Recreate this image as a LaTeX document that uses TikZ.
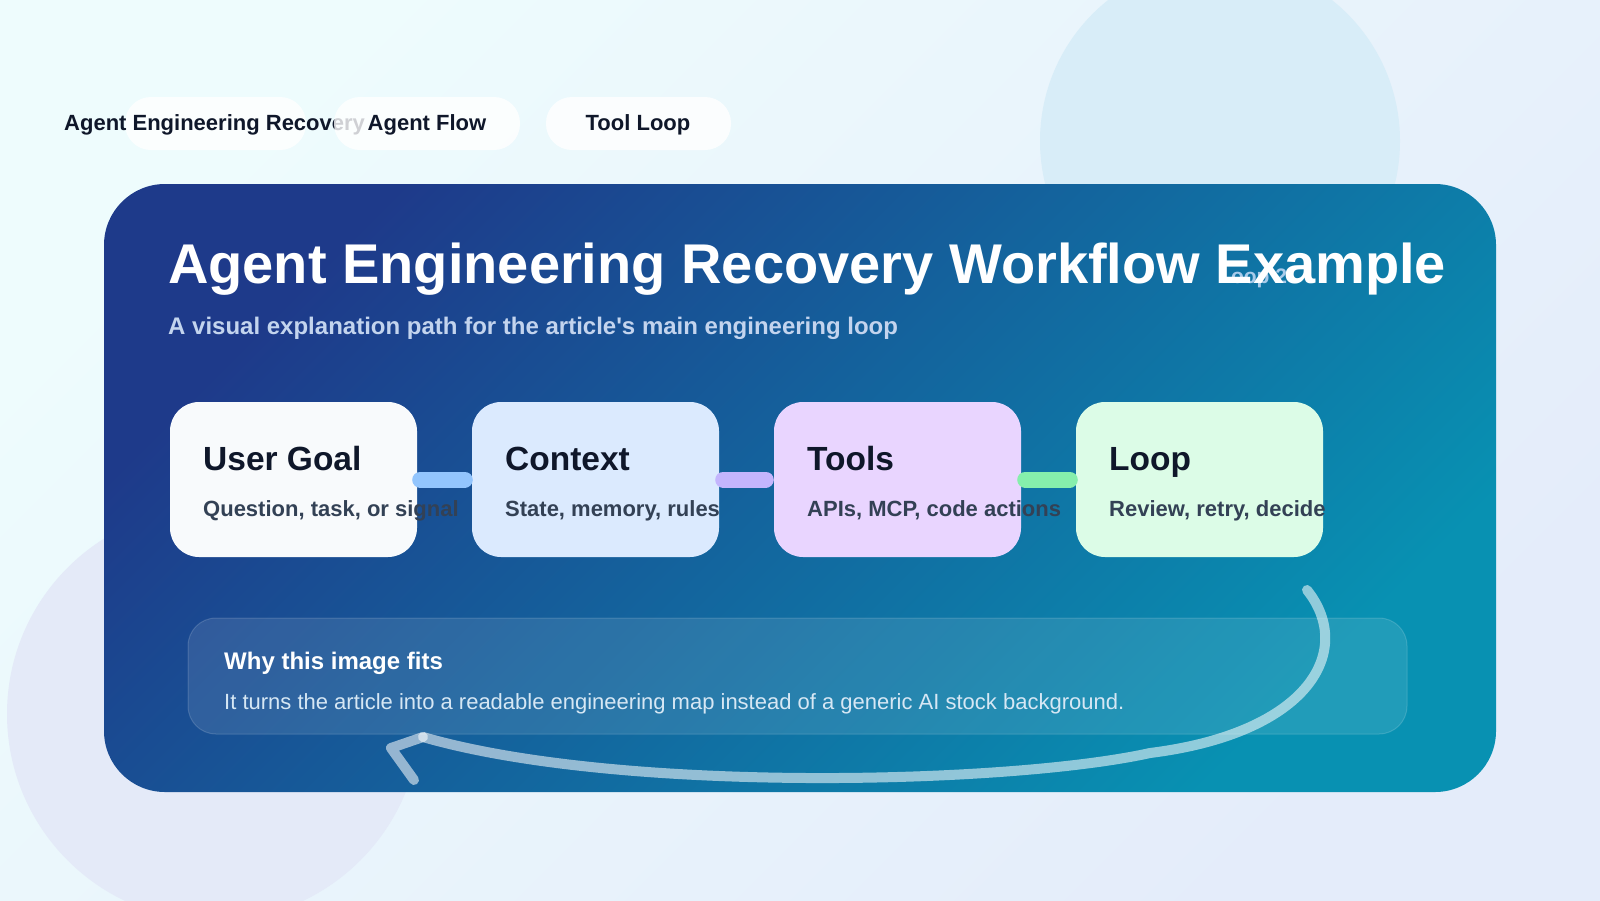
\documentclass[tikz,border=0pt]{standalone}
\usepackage{fontspec}
\setmainfont{Liberation Sans}[Ligatures=TeXOff]
\definecolor{bgA}{HTML}{EEFCFD}
\definecolor{bgB}{HTML}{E4ECFA}
\definecolor{circA}{HTML}{D8EDF8}
\definecolor{circB}{HTML}{E4EAF8}
\definecolor{panA}{HTML}{1E3A8A}
\definecolor{panB}{HTML}{0891B2}
\definecolor{ink}{HTML}{0F172A}
\definecolor{subink}{HTML}{334155}
\definecolor{subtitle}{HTML}{C3D4EE}
\definecolor{boxA}{HTML}{F8FAFC}
\definecolor{boxB}{HTML}{DBEAFE}
\definecolor{boxC}{HTML}{E9D5FF}
\definecolor{boxD}{HTML}{DCFCE7}
\definecolor{barA}{HTML}{93C5FD}
\definecolor{barB}{HTML}{C4B5FD}
\definecolor{barC}{HTML}{86EFAC}
\definecolor{bodyink}{HTML}{D6E7F4}
\definecolor{ghostink}{HTML}{A9CBEA}
\tikzset{
  pill/.style={fill=white, fill opacity=0.8, rounded corners=26},
  pilltext/.style={text=ink, font=\fontsize{22}{24}\selectfont\bfseries, inner sep=0pt},
  card/.style={minimum width=247pt, minimum height=155pt, rounded corners=29pt, inner sep=0pt},
  cardtitle/.style={anchor=base west, inner sep=0pt, text=ink, font=\fontsize{33.5}{36}\selectfont\bfseries},
  cardsub/.style={anchor=base west, inner sep=0pt, text=subink, font=\fontsize{22}{24}\selectfont\bfseries},
  bar/.style={line width=16pt, line cap=round},
  loopline/.style={draw=white, draw opacity=0.55, line width=10pt, line cap=round, line join=round},
}
\begin{document}
\begin{tikzpicture}[x=1pt,y=-1pt]
\useasboundingbox (0,0) rectangle (1600,900);
% background
\shade[left color=bgA, right color=bgB, shading angle=45] (0,0) rectangle (1600,900);
\fill[circA] (1220,141) circle[radius=180];
\fill[circB] (214,714) circle[radius=207];

% top pills
\fill[pill] (125,97) rectangle (306,150);
\node[pilltext, anchor=base west] (p1) at (64,130) {Agent Engineering Recovery};
\fill[pill] (334,97) rectangle (520,150);
\node[pilltext, anchor=base] (p2) at (427,130) {Agent Flow};
\fill[pill] (546,97) rectangle (731,150);
\node[pilltext, anchor=base] (p3) at (638,130) {Tool Loop};

% main panel
\shade[left color=panA, right color=panB, shading angle=45, rounded corners=61]
  (104,184) rectangle (1496,792);

\node[anchor=base west, inner sep=0pt, text=ghostink, font=\fontsize{21}{23}\selectfont\bfseries] (ghost) at (1218,283) {Loop 2};
\node[anchor=base west, inner sep=0pt, text=white, font=\fontsize{56}{60}\selectfont\bfseries] (title) at (168,283) {Agent Engineering Recovery Workflow Example};
\node[anchor=base west, inner sep=0pt, text=subtitle, font=\fontsize{24}{26}\selectfont\bfseries] (sub) at (168,334) {A visual explanation path for the article's main engineering loop};

% cards
\node[card, fill=boxA] (b1) at (293.5,479.5) {};
\node[card, fill=boxB] (b2) at (595.5,479.5) {};
\node[card, fill=boxC] (b3) at (897.5,479.5) {};
\node[card, fill=boxD] (b4) at (1199.5,479.5) {};

\node[cardtitle] (t1) at (203,470) {User Goal};
\node[cardsub] (s1) at (203,516) {Question, task, or signal};
\node[cardtitle] (t2) at (505,470) {Context};
\node[cardsub] (s2) at (505,516) {State, memory, rules};
\node[cardtitle] (t3) at (807,470) {Tools};
\node[cardsub] (s3) at (807,516) {APIs, MCP, code actions};
\node[cardtitle] (t4) at (1109,470) {Loop};
\node[cardsub] (s4) at (1109,516) {Review, retry, decide};

\draw[bar, barA] ([xshift=3pt]b1.east) -- ([xshift=-7pt]b2.west);
\draw[bar, barB] ([xshift=4pt]b2.east) -- ([xshift=-8pt]b3.west);
\draw[bar, barC] ([xshift=4pt]b3.east) -- ([xshift=-6pt]b4.west);

% explanation panel
\draw[fill=white, fill opacity=0.1, draw=white, draw opacity=0.15, line width=1pt, rounded corners=28]
  (188,618) rectangle (1407,734);
\node[anchor=base west, inner sep=0pt, text=white, font=\fontsize{24}{26}\selectfont\bfseries] (why) at (224,669) {Why this image fits};
\node[anchor=base west, inner sep=0pt, text=bodyink, font=\fontsize{22}{24}\selectfont] (body) at (224,709) {It turns the article into a readable engineering map instead of a generic AI stock background.};

% loop-back arrow
\coordinate (ls) at (1307,590);
\coordinate (lm) at (1150,753);
\coordinate (le) at (423,737);
\coordinate (ltip) at (391,748);
\coordinate (larm) at (414,780);
\draw[loopline] (ls) .. controls (1355,650) and (1310,733) .. (lm)
  .. controls (1010,784) and (620,794) .. (le);
\draw[loopline] (le) -- (ltip) -- (larm);
\end{tikzpicture}
\end{document}
